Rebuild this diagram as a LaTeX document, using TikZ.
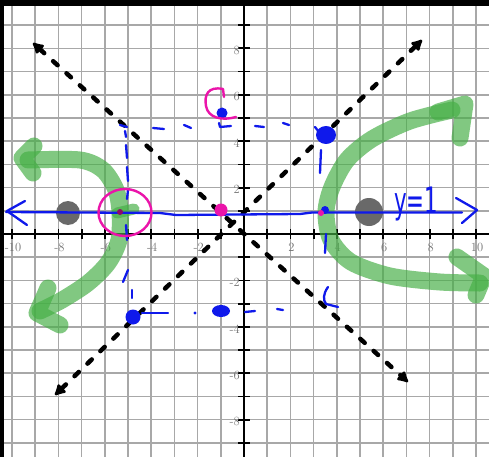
\documentclass[tikz,border=0pt]{standalone}
\usepackage{fontspec}
\usepackage{graphicx}
\usetikzlibrary{arrows.meta}
\definecolor{gridgray}{RGB}{168,168,168}
\definecolor{lblgray}{RGB}{115,115,115}
\definecolor{penblue}{RGB}{15,25,235}
\definecolor{penpink}{RGB}{235,20,170}
\definecolor{pengreen}{RGB}{70,175,70}
\definecolor{dotgray}{RGB}{105,105,105}
\newfontfamily\handfont{DejaVu Sans}
\begin{document}
\begin{tikzpicture}[x=1pt,y=-1pt,
  gridline/.style={gridgray,line width=1.6pt},
  axisline/.style={black,line width=2.2pt},
  tickline/.style={black,line width=1.8pt},
  ticklbl/.style={lblgray,font=\fontsize{12.5}{12.5}\selectfont,inner sep=0pt},
  asym/.style={black,line width=4.5pt,dash pattern=on 6pt off 12pt,line cap=round,
     arrows={Latex[length=13pt,width=14pt,round]-Latex[length=13pt,width=14pt,round]}},
  marker/.style={pengreen,opacity=0.68,line width=17pt,line cap=round,line join=round},
  markerthin/.style={marker,line width=11pt},
  bluepen/.style={penblue,line width=2.3pt,line cap=round,line join=round},
  pinkpen/.style={penpink,line width=2.4pt,line cap=round,line join=round},
]
\useasboundingbox (0,0) rectangle (489,457);
\fill[white] (0,0) rectangle (489,457);
% grid
\foreach \i in {-10,...,10}{
  \draw[gridline] ({244+23.2*\i},6) -- ({244+23.2*\i},457);
}
\foreach \j in {-9,...,9}{
  \draw[gridline] (4,{234-23.2*\j}) -- (489,{234-23.2*\j});
}
% axes
\draw[axisline] (4,234) -- (489,234);
\draw[axisline] (244,6) -- (244,457);
\foreach \i in {-10,...,10}{
  \draw[tickline] ({244+23.2*\i},229) -- ({244+23.2*\i},239);
}
\foreach \j in {-9,...,9}{
  \draw[tickline] (238,{234-23.2*\j}) -- (250,{234-23.2*\j});
}
\foreach \i [count=\k] in {-10,-8,-6,-4,-2,2,4,6,8,10}{
  \node[ticklbl] (xl\k) at ({244+23.2*\i+1},247) {\i};
}
\foreach \j [count=\k] in {8,6,4,2,-2,-4,-6,-8}{
  \node[ticklbl,anchor=east] (yl\k) at (240,{234-23.2*\j+2}) {\j};
}
% foci
\fill[dotgray] (68,213) circle[radius=12];
\fill[dotgray] (369,212) circle[radius=14];
% green branches
\draw[marker] plot[smooth] coordinates {(28,160) (80,160) (103,170) (116,190) (120,212) (119,240) (108,263) (88,283) (62,300) (40,311)};
\draw[marker] (34,146) -- (22,158) -- (33,173);
\draw[marker] (48,288) -- (37,313) -- (60,325);
\draw[markerthin] (117,213) -- (134,209);
\draw[marker] plot[smooth] coordinates {(452,110) (410,121) (372,139) (347,160) (332,187) (326,212) (331,240) (351,262) (390,276) (440,282) (480,283)};
\draw[marker] (438,112) -- (465,104) -- (460,138);
\draw[marker] (457,257) -- (484,276) -- (476,295);
% asymptotes
\coordinate (a1s) at (33,43);
\coordinate (a1e) at (408,382);
\coordinate (a2s) at (55,395);
\coordinate (a2e) at (422,40);
\draw[asym] (a1s) -- (a1e);
\draw[asym] (a2s) -- (a2e);
% blue axis of symmetry y=1
\draw[bluepen] (6,212) -- (160,213) -- (176,215) -- (300,214) -- (312,212.5) -- (462,212.5);
\draw[bluepen] (25,201) -- (7,211) -- (27,225);
\draw[bluepen] (456,198) -- (477,210) -- (462,223);
\node[penblue,anchor=base west,inner sep=0pt,font=\handfont\fontsize{26}{26}\selectfont] (ylbl) at (394,213) {\scalebox{0.82}[1.4]{y=1}};
% blue dashed box
\draw[bluepen] (120,125) -- (127,127);
\draw[bluepen] (125,131) -- (126,137);
\draw[bluepen] (126,145) -- (127,158);
\draw[bluepen] (127,167) -- (128,181);
\draw[bluepen] (128,190) -- (127,199);
\draw[bluepen] (126,225) -- (127,240);
\draw[bluepen] (128,270) -- (123,282);
\draw[bluepen] (132,290) -- (132,298);
\draw[bluepen] (153,128) -- (164,129);
\draw[bluepen] (184,125) -- (191,128);
\draw[bluepen] (219,123) -- (220,127) -- (231,126);
\draw[bluepen] (255,126) -- (264,127);
\draw[bluepen] (283,123) -- (289,125);
\draw[bluepen] (321,150) -- (320,173);
\draw[bluepen] (326,234) -- (325,253);
\draw[bluepen] (328,287) .. controls (323,294) and (323,300) .. (326,304) -- (338,307);
\draw[bluepen] (142,313) -- (168,313);
\draw[bluepen] (245,312) -- (255,311);
\draw[bluepen] (277,309) -- (283,310);
\fill[penblue] (195,313) circle[radius=1.6];
\fill[penblue] (326,135) ellipse[x radius=10,y radius=9];
\draw[bluepen] (315,127) -- (319,132);
\fill[penblue] (133,317) circle[radius=7.5];
\fill[penblue] (222,113) circle[radius=5.5];
\fill[penblue] (221,311) ellipse[x radius=9,y radius=6];
\fill[penblue] (325,210) circle[radius=4];
% pink marks
\fill[penpink] (221,210) circle[radius=6.5];
\fill[penpink!60!black] (120,212) circle[radius=3];
\fill[penpink] (321,213) circle[radius=3];
\draw[pinkpen] (125,212.5) ellipse[x radius=26.5,y radius=23.5];
\draw[pinkpen] (224,97) -- (223,89) .. controls (208,86) and (204,95) .. (206,106) .. controls (208,118) and (222,121) .. (236,117);
% frame bars
\fill[black] (0,0) rectangle (489,6);
\fill[black] (0,0) rectangle (4,457);
\end{tikzpicture}
\end{document}
